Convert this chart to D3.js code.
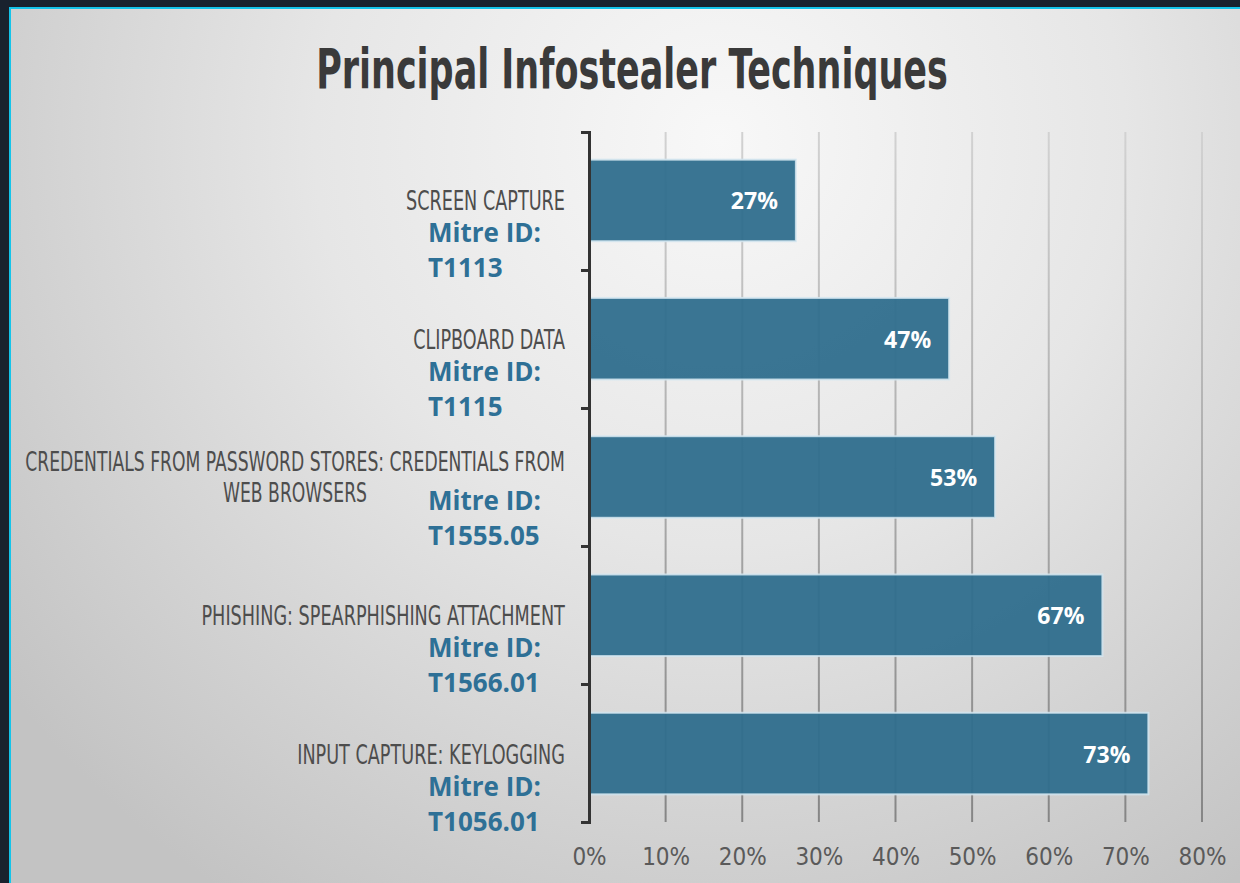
<!DOCTYPE html>
<html><head><meta charset="utf-8">
<script src="https://cdn.jsdelivr.net/npm/d3@7"></script>
<style>html,body{margin:0;padding:0;background:#19222e;}svg{display:block;}</style>
</head><body>
<svg id="c" width="1240" height="883"></svg>
<script>
const categories = [
  "SCREEN CAPTURE",
  "CLIPBOARD DATA",
  "CREDENTIALS FROM PASSWORD STORES: CREDENTIALS FROM WEB BROWSERS",
  "PHISHING: SPEARPHISHING ATTACHMENT",
  "INPUT CAPTURE: KEYLOGGING"
];
const mitreIds = ["T1113", "T1115", "T1555.05", "T1566.01", "T1056.01"];
const values = [0.27, 0.47, 0.53, 0.67, 0.73];
const xTicks = [0, 0.1, 0.2, 0.3, 0.4, 0.5, 0.6, 0.7, 0.8];
const title = "Principal Infostealer Techniques";

const W = 1240, H = 883;
const svg = d3.select("#c");
const defs = svg.append("defs");

const bg = defs.append("radialGradient").attr("id","bg").attr("gradientUnits","userSpaceOnUse")
  .attr("cx",720).attr("cy",140).attr("r",900);
bg.append("stop").attr("offset",0).attr("stop-color","#f8f8f8");
bg.append("stop").attr("offset",0.45).attr("stop-color","#e6e6e6");
bg.append("stop").attr("offset",1).attr("stop-color","#c3c3c3");

const gg = defs.append("linearGradient").attr("id","grid").attr("gradientUnits","userSpaceOnUse")
  .attr("x1",0).attr("y1",130).attr("x2",0).attr("y2",825);
gg.append("stop").attr("offset",0).attr("stop-color","#d2d2d2");
gg.append("stop").attr("offset",1).attr("stop-color","#858585");

// frame
svg.append("rect").attr("width",W).attr("height",H).attr("fill","#19222e");
svg.append("rect").attr("x",9).attr("y",7).attr("width",W-9).attr("height",H-7).attr("fill","#14c4ea");
svg.append("rect").attr("x",11).attr("y",9).attr("width",W-11).attr("height",H-9).attr("fill","url(#bg)");

// title
const t = svg.append("text").text(title)
  .attr("font-family","'Liberation Sans Narrow', 'DejaVu Sans Condensed', sans-serif")
  .attr("font-weight","700").attr("font-size",56).attr("fill","#3a3a3a");
const tw = t.node().getComputedTextLength();
const tsx = 632 / tw;
t.attr("text-anchor","middle").attr("transform",`translate(632,88) scale(${tsx},1)`);

const x = d3.scaleLinear().domain([0, 0.8]).range([589, 1202]);
const yTop = 132, yBot = 822;
const y = d3.scaleBand().domain(categories).range([yTop, yBot]).paddingInner(0.41).paddingOuter(0.2);
const yIdx = d3.scaleLinear().domain([0, categories.length]).range([yTop, yBot]);

// gridlines
svg.append("g").selectAll("line").data(xTicks.filter(d => d > 0)).join("line")
  .attr("x1", d => x(d)).attr("x2", d => x(d))
  .attr("y1", yTop).attr("y2", yBot)
  .attr("stroke","url(#grid)").attr("stroke-width",2);

// x tick labels
const xAxis = d3.axisBottom(x).tickValues(xTicks).tickFormat(d3.format(".0%")).tickSize(0).tickPadding(0);
const gx = svg.append("g").attr("transform",`translate(0,${yBot})`).call(xAxis);
gx.select(".domain").remove();
gx.selectAll("text").attr("dy",null).attr("y",43)
  .attr("font-family","'DejaVu Sans Condensed', sans-serif").attr("font-size",24).attr("fill","#5a5a5a");

// bars
svg.append("g").selectAll("rect").data(values).join("rect")
  .attr("x", x(0) + 1)
  .attr("y", (d,i) => y(categories[i]))
  .attr("width", d => x(d) - x(0) - 1)
  .attr("height", y.bandwidth())
  .attr("fill","#2f6e8d").attr("fill-opacity",0.95)
  .attr("stroke","#d6e8f1").attr("stroke-opacity",0.85).attr("stroke-width",2);

// value labels
svg.append("g").selectAll("text").data(values).join("text")
  .attr("x", d => x(d) - 18)
  .attr("y", (d,i) => y(categories[i]) + y.bandwidth()/2 + 9)
  .attr("text-anchor","end")
  .attr("font-family","'Open Sans', sans-serif").attr("font-weight","700").attr("font-size",23)
  .attr("fill","#ffffff")
  .text(d => d3.format(".0%")(d));

// y axis
const yAxis = d3.axisLeft(yIdx).tickValues(d3.range(categories.length + 1)).tickFormat("").tickSize(8).tickSizeOuter(8);
const gy = svg.append("g").attr("transform",`translate(${x(0)},0)`).call(yAxis);
gy.select(".domain").attr("stroke","#333").attr("stroke-width",3).attr("fill","none");
gy.selectAll(".tick line").attr("stroke","#333").attr("stroke-width",3);

// category labels
const catFont = "'Liberation Sans Narrow', 'DejaVu Sans Condensed', sans-serif";
const probe = svg.append("text").attr("font-family",catFont).attr("font-size",27).text("SCREEN CAPTURE");
const csx = 159 / probe.node().getComputedTextLength();
probe.remove();
const labelRight = 565, maxW = 560, fitW = 540;

function measure(s){
  const p = svg.append("text").attr("font-family",catFont).attr("font-size",27).text(s);
  const w = p.node().getComputedTextLength() * csx; p.remove(); return w;
}

const gl = svg.append("g");
categories.forEach((cat, i) => {
  const words = cat.split(" ");
  const lines = []; let cur = "";
  words.forEach(w => {
    const test = cur ? cur + " " + w : w;
    if (measure(test) > maxW && cur) { lines.push(cur); cur = w; } else cur = test;
  });
  lines.push(cur);
  const widths = lines.map(measure);
  const k = d3.max(widths) > fitW ? fitW / d3.max(widths) : 1;
  const blockW = d3.max(widths) * k;
  const cx = labelRight - blockW/2;
  const center = y(cat) + y.bandwidth()/2;
  const n = lines.length;
  const start = center + 10 - (n-1)*16;
  lines.forEach((ln, j) => {
    gl.append("text").attr("font-family",catFont).attr("font-size",27).attr("fill","#4d4d4d")
      .attr("text-anchor","middle")
      .attr("transform",`translate(${cx},${start + j*31}) scale(${csx*k},1)`)
      .text(ln);
  });
  const mb = center + 42 - (n-1)*9;
  gl.append("text").attr("x",428).attr("y",mb)
    .attr("font-family","'Open Sans', sans-serif").attr("font-weight","700").attr("font-size",26)
    .attr("fill","#2e7096").text("Mitre ID:");
  gl.append("text").attr("x",428).attr("y",mb + 35)
    .attr("font-family","'Open Sans', sans-serif").attr("font-weight","700").attr("font-size",26)
    .attr("fill","#2e7096").text(mitreIds[i]);
});
</script>
</body></html>
